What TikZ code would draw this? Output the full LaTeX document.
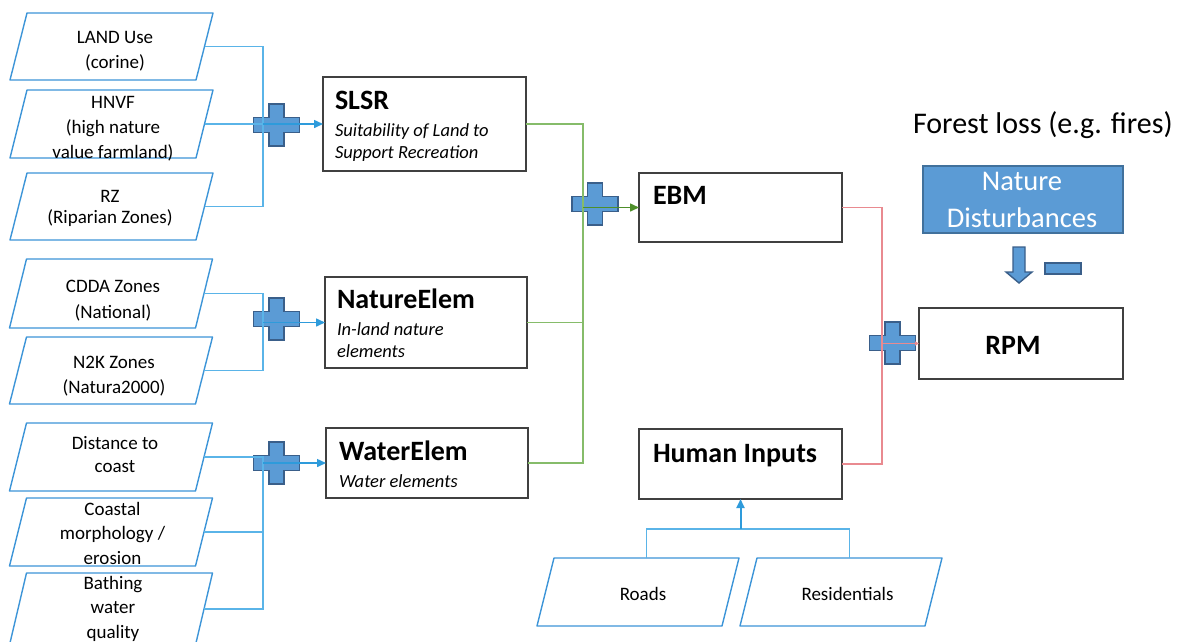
\documentclass[tikz,border=0pt]{standalone}
\usepackage{fontspec}
\setmainfont{Carlito}
\usetikzlibrary{arrows.meta}
\definecolor{inblue}{HTML}{3D95D8}
\definecolor{lnblue}{HTML}{5AB4E8}
\definecolor{arblue}{HTML}{2E9BDB}
\definecolor{plusfill}{HTML}{5B9BD5}
\definecolor{plusedge}{HTML}{3A5F8A}
\definecolor{boxedge}{HTML}{404040}
\definecolor{lgreen}{HTML}{86BC6A}
\definecolor{dgreen}{HTML}{4E8F2A}
\definecolor{lred}{HTML}{E98A90}
\definecolor{ndedge}{HTML}{41719C}
\newcommand\mystack[4]{{\fontsize{#1}{#2}\selectfont\begin{tabular}[t]{@{}#3@{}}#4\end{tabular}}}
\newcommand\pgram[1]{\draw[pg] ([xshift=8.5pt]#1.north west) -- ([xshift=8.5pt]#1.north east)
  -- ([xshift=-8.5pt]#1.south east) -- ([xshift=-8.5pt]#1.south west) -- cycle;}
\tikzset{
  txt/.style={inner sep=0pt, outer sep=0pt, anchor=base},
  inbox/.style={minimum width=186pt, minimum height=67pt, inner sep=0pt, outer sep=0pt},
  pg/.style={draw=inblue, line width=1.4pt, line join=round},
  bigbox/.style={draw=boxedge, line width=1.5pt, fill=white, inner sep=0pt, outer sep=0pt},
  bl/.style={draw=lnblue, line width=1.5pt},
  gl/.style={draw=lgreen, line width=1.5pt},
  rl/.style={draw=lred, line width=1.5pt},
  tip/.style={-{Triangle[length=9pt,width=8pt]}},
  plussign/.pic={\draw[fill=plusfill, draw=plusedge, line width=1.4pt]
    (-7.5,-21) -- (7.5,-21) -- (7.5,-7.5) -- (23,-7.5) -- (23,7.5) -- (7.5,7.5)
    -- (7.5,21) -- (-7.5,21) -- (-7.5,7.5) -- (-23,7.5) -- (-23,-7.5) -- (-7.5,-7.5) -- cycle;},
  ttl/.style={txt, anchor=base west, font=\fontsize{28}{30}\selectfont\bfseries},
}
\begin{document}
\begin{tikzpicture}[x=1pt,y=-1pt]
\useasboundingbox[fill=white] (0,0) rectangle (1179,641);

% input parallelograms
\node[inbox] (p1) at (111.5,46.5) {};
\node[inbox, minimum height=68pt] (p2) at (111.5,124) {};
\node[inbox] (p3) at (111.5,206.5) {};
\node[inbox, minimum height=69pt] (p4) at (111,293.5) {};
\node[inbox] (p5) at (111,370.5) {};
\node[inbox, minimum height=68pt] (p6) at (111,457) {};
\node[inbox, minimum height=68pt] (p7) at (111,532) {};
\node[inbox, minimum height=72pt] (p8) at (111,609) {};
\foreach \p in {p1,p2,p3,p4,p5,p6,p7,p8} {\pgram{\p}}

\node[txt] (t1) at (115,43.3) {\mystack{19}{25.5}{c}{LAND Use\\(corine)}};
\node[txt] (t2) at (113,108.3) {\mystack{19}{25.3}{c}{HNVF\\(high nature\\value farmland)}};
\node[txt] (t3) at (110,202.3) {\mystack{19}{21}{c}{RZ\\(Riparian Zones)}};
\node[txt] (t4) at (113,292.7) {\mystack{19}{25.5}{c}{CDDA Zones\\(National)}};
\node[txt] (t5) at (114,368.3) {\mystack{19}{25}{c}{N2K Zones\\(Natura2000)}};
\node[txt] (t6) at (115,449.3) {\mystack{19}{23.4}{c}{Distance to\\coast}};
\node[txt] (t7) at (112.5,515.7) {\mystack{19}{24.2}{c}{Coastal\\morphology /\\erosion}};
\node[txt] (t8) at (113,589) {\mystack{19}{24.5}{c}{Bathing\\water\\quality}};

% model boxes
\node[bigbox, minimum width=203pt, minimum height=94pt] (slsr) at (424.5,124) {};
\node[bigbox, minimum width=202pt, minimum height=91pt] (nature) at (426,322.5) {};
\node[bigbox, minimum width=202pt, minimum height=70pt] (water) at (427,463) {};
\node[bigbox, minimum width=203pt, minimum height=69pt] (ebm) at (740.5,207.5) {};
\node[bigbox, minimum width=203pt, minimum height=70pt] (human) at (740.5,464) {};
\node[bigbox, minimum width=204pt, minimum height=71pt] (rpm) at (1021,343.5) {};

\node[ttl] (slsrT) at (335,109) {SLSR};
\node[txt, anchor=base west] (slsrS) at (335,136) {\mystack{18.5}{22}{l}{\itshape Suitability of Land to\\\itshape Support Recreation}};
\node[ttl] (natureT) at (337,308) {NatureElem};
\node[txt, anchor=base west] (natureS) at (337,335) {\mystack{18.5}{22}{l}{\itshape In-land nature\\\itshape elements}};
\node[ttl] (waterT) at (339,460) {WaterElem};
\node[txt, anchor=base west] (waterS) at (339,487) {\mystack{18.5}{22}{l}{\itshape Water elements}};
\node[ttl] (ebmT) at (653,204) {EBM};
\node[ttl] (humanT) at (653,462) {Human Inputs};
\node[txt, font=\fontsize{28}{30}\selectfont\bfseries] (rpmT) at (1013,354) {RPM};

% human input sources
\node[inbox, minimum width=185pt, minimum height=68pt] (roads) at (638,592) {};
\node[inbox, minimum width=185pt, minimum height=68pt] (resid) at (841,592) {};
\pgram{roads}
\pgram{resid}
\node[txt, font=\fontsize{19}{22}\selectfont] (roadsT) at (643,600) {Roads};
\node[txt, font=\fontsize{19}{22}\selectfont] (residT) at (847.5,600) {Residentials};

% nature disturbances
\node[txt, anchor=base west, font=\fontsize{30}{36}\selectfont] (forest) at (913,133) {Forest loss (e.g. fires)};
\node[draw=ndedge, fill=plusfill, line width=1.2pt, minimum width=200pt, minimum height=67pt, inner sep=0pt] (nd) at (1023,199.5) {};
\node[txt, text=white] (ndT) at (1022,190) {\mystack{28.5}{37}{c}{Nature\\Disturbances}};
\draw[fill=plusfill, draw=plusedge, line width=1.4pt]
  (1013,247) -- (1025,247) -- (1025,272) -- (1032,272) -- (1019,283) -- (1006,272) -- (1013,272) -- cycle;
\draw[fill=plusfill, draw=plusedge, line width=1.4pt] (1045,263) rectangle (1081,274);

% plus signs
\pic at (276.5,125) {plussign};
\pic at (276.5,319) {plussign};
\pic at (276.5,463) {plussign};
\pic at (595,204) {plussign};
\pic at (892.5,343) {plussign};

% blue connectors
\coordinate (b1) at (263,124);
\coordinate (b2) at (263,322.5);
\coordinate (b3) at (263,463);
\draw[bl] (p1.east) -| (b1);
\draw[bl] (p3.east) -| (b1);
\draw[bl] (p2.east) -- (b1);
\draw[bl, tip, arblue] (b1) -- (slsr.west);
\draw[bl] (p4.east) -| (b2);
\draw[bl] (p5.east) -| (b2);
\draw[bl, tip, arblue] (b2) -- (nature.west);
\draw[bl] (p6.east) -| (b3);
\draw[bl] (p7.east) -| (b3);
\draw[bl] (p8.east) -| (b3);
\draw[bl, tip, arblue] (b3) -- (water.west);

% green connectors
\coordinate (g) at (583,207.5);
\draw[gl] (slsr.east) -| (g);
\draw[gl] (nature.east) -| (g);
\draw[gl] (water.east) -| (g);
\draw[gl, dgreen, tip] (g) -- (ebm.west);

% red connectors
\coordinate (r) at (882,343.5);
\draw[rl] (ebm.east) -| (r);
\draw[rl] (human.east) -| (r);
\draw[rl, -{Triangle[length=4pt,width=4pt]}] (r) -- (rpm.west);

% human inputs
\coordinate (hb) at (740.5,529);
\draw[bl] ([xshift=8.5pt]roads.north) |- (hb);
\draw[bl] ([xshift=8.5pt]resid.north) |- (hb);
\draw[draw=arblue, line width=2pt, tip] (hb) -- (human.south);
\end{tikzpicture}
\end{document}
